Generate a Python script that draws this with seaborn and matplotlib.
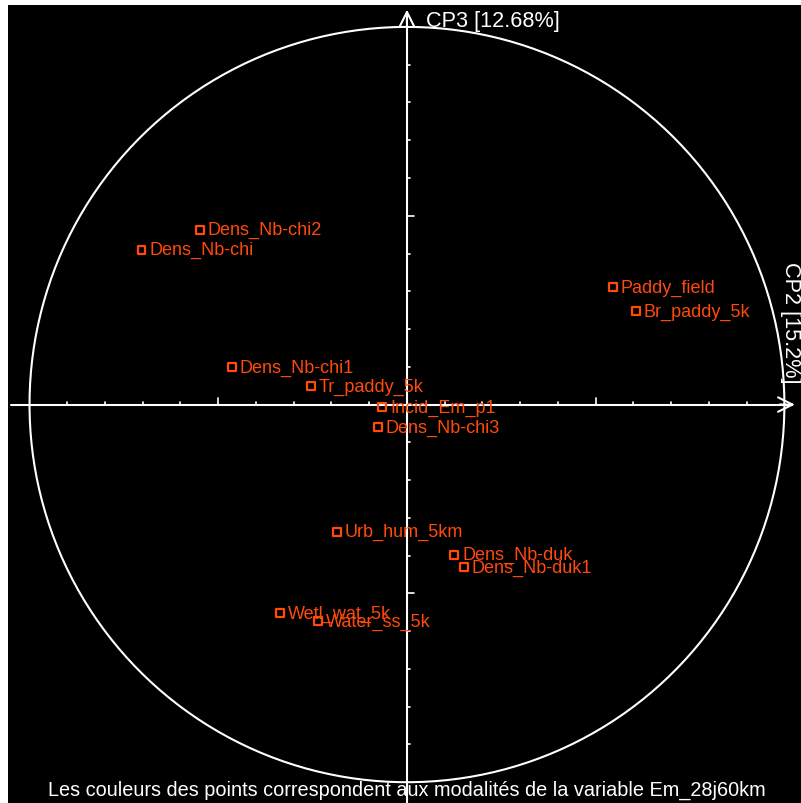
import numpy as np
import pandas as pd
import matplotlib
matplotlib.use("Agg")
import matplotlib.pyplot as plt
import seaborn as sns

# variable coordinates on the factor plane (CP2 x, CP3 y)
labels = ["Dens_Nb-chi2", "Dens_Nb-chi", "Paddy_field", "Br_paddy_5k",
          "Dens_Nb-chi1", "Tr_paddy_5k", "Incid_Em_p1", "Dens_Nb-chi3",
          "Urb_hum_5km", "Dens_Nb-duk", "Dens_Nb-duk1", "Wetl_wat_5k",
          "Water_ss_5k"]
cp2 = [-0.549, -0.703, 0.546, 0.607, -0.464, -0.255, -0.066, -0.077,
       -0.186, 0.125, 0.151, -0.337, -0.236]
cp3 = [0.463, 0.410, 0.311, 0.247, 0.099, 0.049, -0.007, -0.060,
       -0.337, -0.398, -0.430, -0.552, -0.573]
tick_vals = [-0.9, -0.8, -0.7, -0.6, -0.5, -0.4, -0.3, -0.2, -0.1,
             0.1, 0.2, 0.3, 0.4, 0.5, 0.6, 0.7, 0.8, 0.9]

df = pd.DataFrame({"cp2": cp2, "cp3": cp3, "label": labels})
col = "#ff4a0a"

sns.set_style("white")
plt.rcParams["font.family"] = ["Liberation Sans", "DejaVu Sans"]

fig = plt.figure(figsize=(8.01, 8.04), dpi=100, facecolor="white")
ax = fig.add_axes([8 / 801, 0, 1 - 8 / 801, 1 - 6 / 804])
ax.set_facecolor("black")
ax.set_xlim(-1.057, 1.044)
ax.set_ylim(-1.055, 1.058)
ax.axis("off")
ax.add_patch(plt.Rectangle((0, 0), 1, 1, transform=ax.transAxes,
                           facecolor="black", edgecolor="none", zorder=0))

# correlation circle
t = np.linspace(0, 2 * np.pi, 400)
ax.plot(np.cos(t), np.sin(t), color="white", lw=1.5)

# axes with arrows
ax.plot([-1.05, 1.02], [0, 0], color="white", lw=1.5)
ax.plot([0, 0], [-1.06, 1.04], color="white", lw=1.5)
ax.annotate("", xy=(1.035, 0), xytext=(0.98, 0),
            arrowprops=dict(arrowstyle="->", color="white", lw=1.5,
                            mutation_scale=26))
ax.annotate("", xy=(0, 1.053), xytext=(0, 1.0),
            arrowprops=dict(arrowstyle="->", color="white", lw=1.5,
                            mutation_scale=26))

# ticks
for v in tick_vals:
    L = 0.018 if abs(abs(v) - 0.5) < 1e-9 else 0.007
    ax.plot([v, v], [0, L], color="white", lw=1.2)
    ax.plot([0, L], [v, v], color="white", lw=1.2)

sns.scatterplot(data=df, x="cp2", y="cp3", marker="s", s=30,
                facecolor="none", edgecolor=col, linewidth=1.6, ax=ax,
                zorder=5)
for x, y, lab in zip(cp2, cp3, labels):
    ax.text(x + 0.021, y, lab, color=col, fontsize=13,
            va="center", ha="left", zorder=6)

ax.text(0.05, 1.018, "CP3 [12.68%]", color="white", fontsize=15.6,
        va="center", ha="left")
ax.text(1.015, 0.218, "CP2 [15.2%]", color="white", fontsize=15.6,
        va="center", ha="center", rotation=270)
ax.text(0.0, -1.02, "Les couleurs des points correspondent aux modalités de la variable Em_28j60km",
        color="white", fontsize=14.3, va="center", ha="center")

fig.savefig("out.png", dpi=100, facecolor="white")
